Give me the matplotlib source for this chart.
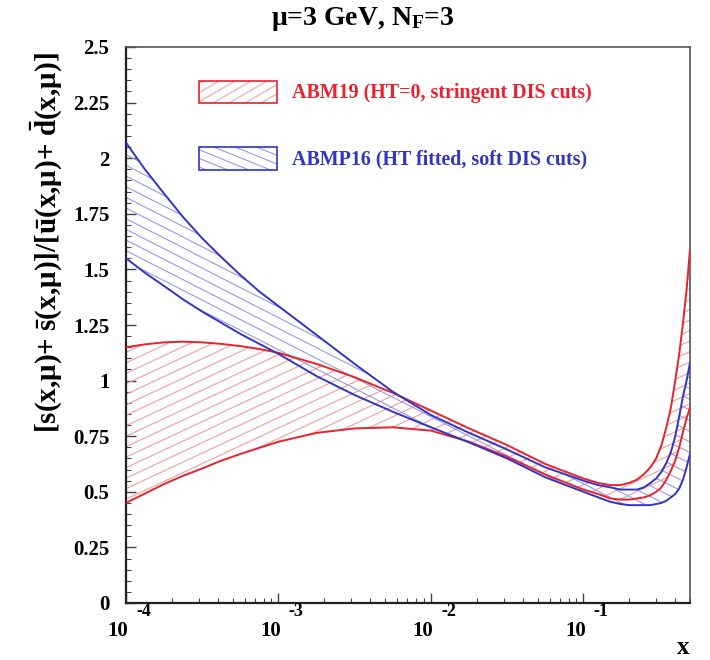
import numpy as np
import matplotlib
matplotlib.use('Agg')
import matplotlib.pyplot as plt
from matplotlib.patches import Polygon, Rectangle
from matplotlib.collections import LineCollection
from matplotlib.ticker import FixedLocator, MultipleLocator, LogLocator, NullFormatter
from matplotlib.transforms import blended_transform_factory, offset_copy

plt.rcParams['font.family'] = ['Liberation Serif', 'DejaVu Serif']
plt.rcParams['font.weight'] = 'bold'
plt.rcParams['mathtext.fontset'] = 'custom'
plt.rcParams['mathtext.rm'] = 'Liberation Serif:bold'
plt.rcParams['mathtext.it'] = 'Liberation Serif:bold'
plt.rcParams['mathtext.bf'] = 'Liberation Serif:bold'
plt.rcParams['mathtext.default'] = 'rm'

# ---- data ----
x = [1e-4, 1.33e-4, 1.78e-4, 2.37e-4, 3.16e-4, 4.22e-4, 5.62e-4, 7.5e-4, 1e-3,
     1.78e-3, 3.16e-3, 5.62e-3, 1e-2, 1.78e-2, 3.16e-2, 5.62e-2, 0.1,
     0.125, 0.15, 0.175, 0.2, 0.225, 0.25, 0.275, 0.3, 0.325, 0.35, 0.375,
     0.4, 0.425, 0.45, 0.475, 0.5]
abm19_hi = [1.15, 1.163, 1.172, 1.175, 1.172, 1.165, 1.155, 1.142, 1.125,
            1.075, 1.015, 0.945, 0.865, 0.785, 0.71, 0.625, 0.56,
            0.54, 0.53, 0.53, 0.54, 0.555, 0.58, 0.61, 0.65, 0.71, 0.79, 0.88,
            1.00, 1.12, 1.26, 1.41, 1.59]
abm19_lo = [0.45, 0.492, 0.535, 0.572, 0.605, 0.64, 0.67, 0.698, 0.725,
            0.765, 0.785, 0.79, 0.775, 0.725, 0.658, 0.578, 0.51,
            0.49, 0.47, 0.465, 0.465, 0.47, 0.475, 0.485, 0.50, 0.52, 0.555, 0.595,
            0.64, 0.70, 0.77, 0.83, 0.88]
abmp16_hi = [2.07, 1.95, 1.84, 1.735, 1.64, 1.555, 1.475, 1.40, 1.335,
             1.205, 1.075, 0.95, 0.845, 0.765, 0.69, 0.61, 0.55,
             0.53, 0.52, 0.51, 0.51, 0.51, 0.52, 0.54, 0.56, 0.59, 0.63, 0.68,
             0.75, 0.84, 0.93, 1.00, 1.08]
abmp16_lo = [1.55, 1.485, 1.425, 1.365, 1.31, 1.26, 1.21, 1.165, 1.12,
             1.02, 0.935, 0.86, 0.79, 0.722, 0.65, 0.565, 0.50,
             0.475, 0.455, 0.445, 0.44, 0.44, 0.44, 0.44, 0.445, 0.45, 0.46, 0.475,
             0.49, 0.515, 0.555, 0.61, 0.67]

labels = ['ABM19 (HT=0, stringent DIS cuts)', 'ABMP16 (HT fitted, soft DIS cuts)']
title = r'$\mu$=3 GeV, N$_{F}$=3'
ylabel = r'[s(x,$\mu$)+ $\bar{\rm s}$(x,$\mu$)]/[$\bar{\rm u}$(x,$\mu$)+ $\bar{\rm d}$(x,$\mu$)]'
yticks = [0, 0.25, 0.5, 0.75, 1, 1.25, 1.5, 1.75, 2, 2.25, 2.5]
ytick_labels = ['0', '0.25', '0.5', '0.75', '1', '1.25', '1.5', '1.75', '2', '2.25', '2.5']
xticks = [1e-4, 1e-3, 1e-2, 1e-1]
xtick_exponents = ['-4', '-3', '-2', '-1']

RED = '#e8222e'
BLUE = '#3434c4'
RED_H = '#eda0a0'
BLUE_H = '#9a9ae0'

W_PX, H_PX = 710, 660
fig = plt.figure(figsize=(7.1, 6.6), dpi=100)
L, R, B, T = 126, 690, 603, 47
ax = fig.add_axes([L / W_PX, 1 - B / H_PX, (R - L) / W_PX, (B - T) / H_PX])
AW, AH = R - L, B - T

ax.set_xscale('log')
ax.set_xlim(1e-4, 0.5)
ax.set_ylim(0, 2.5)


def hatch(ax, clip, angle, spacing, color, lw, box=(0, 0, 1, 1)):
    k = np.tan(np.deg2rad(angle))
    x0, y0, x1, y1 = box
    w = (x1 - x0) * AW
    h = (y1 - y0) * AH
    sv = spacing / np.cos(np.deg2rad(angle))
    bmin = -abs(k) * w - sv
    bmax = h + abs(k) * w + sv
    segs = []
    for b in np.arange(bmin, bmax, sv):
        ya = y0 + b / AH
        yb = y0 + (b + k * w) / AH
        segs.append([(x0, ya), (x1, yb)])
    lc = LineCollection(segs, transform=ax.transAxes, colors=color, linewidths=lw, zorder=2)
    ax.add_collection(lc)
    lc.set_clip_path(clip)


def band(ax, xs, hi, lo, line_color, hatch_color, angle):
    verts = list(zip(xs, hi)) + list(zip(xs[::-1], lo[::-1]))
    poly = Polygon(verts, closed=True, transform=ax.transData, facecolor='none', edgecolor='none')
    ax.add_patch(poly)
    hatch(ax, poly, angle, 9.5, hatch_color, 0.8)
    ax.plot(xs, hi, color=line_color, lw=1.4, zorder=3, solid_joinstyle='round')
    ax.plot(xs, lo, color=line_color, lw=1.4, zorder=3, solid_joinstyle='round')


band(ax, x, abm19_hi, abm19_lo, RED, RED_H, 25)
band(ax, x, abmp16_hi, abmp16_lo, BLUE, BLUE_H, -27)


def legbox(ax, y0, y1, color, hcolor, angle, text, ty):
    x0, x1 = (199 - L) / AW, (277 - L) / AW
    rect = Rectangle((x0, y0), x1 - x0, y1 - y0, transform=ax.transAxes,
                     facecolor='none', edgecolor=color, lw=1.2, zorder=4)
    ax.add_patch(rect)
    hatch(ax, rect, angle, 8, hcolor, 0.8, box=(x0, y0, x1, y1))
    ax.text((292 - L) / AW, ty, text, transform=ax.transAxes, color=color,
            fontsize=14.4, fontweight='bold', va='center', ha='left')


legbox(ax, (B - 103) / AH, (B - 81) / AH, RED, RED_H, 30, labels[0], (B - 93) / AH)
legbox(ax, (B - 170) / AH, (B - 147) / AH, BLUE, BLUE_H, -22, labels[1], (B - 159) / AH)

# axes styling
for s in ['top', 'right']:
    ax.spines[s].set_color('#555555')
    ax.spines[s].set_linewidth(1.2)
for s in ['left', 'bottom']:
    ax.spines[s].set_color('#222222')
    ax.spines[s].set_linewidth(1.6)

ax.yaxis.set_major_locator(FixedLocator(yticks))
ax.set_yticklabels(ytick_labels)
ax.yaxis.set_minor_locator(MultipleLocator(0.05))
ax.xaxis.set_major_locator(FixedLocator(xticks))
ax.xaxis.set_minor_locator(LogLocator(base=10, subs=np.arange(2, 10)))
ax.xaxis.set_minor_formatter(NullFormatter())
ax.set_xticklabels([''] * len(xticks))
ax.tick_params(axis='both', which='both', direction='in', top=False, right=False,
               color='#444444')
ax.tick_params(axis='both', which='major', length=7, width=1.0, labelsize=15)
ax.tick_params(axis='both', which='minor', length=3.5, width=0.8)
ax.tick_params(axis='y', pad=12)
for lab in ax.get_yticklabels():
    lab.set_fontweight('bold')

# ROOT-style x tick labels: "10" with a detached exponent
bt = blended_transform_factory(ax.transData, ax.transAxes)
for xv, ex in zip(xticks, xtick_exponents):
    tr10 = offset_copy(bt, fig=fig, x=-8, y=-28, units='dots')
    ax.text(xv, 0, '10', transform=tr10, ha='center', va='center', fontsize=15,
            fontweight='bold')
    trex = offset_copy(bt, fig=fig, x=10, y=-9, units='dots')
    ax.text(xv, 0, ex, transform=trex, ha='left', va='center', fontsize=13,
            fontweight='bold')

fig.text(363 / W_PX, 1 - 19 / H_PX, title, ha='center', va='center', fontsize=20, fontweight='bold')
fig.text(47 / W_PX, 1 - 243 / H_PX, ylabel, ha='center', va='center', rotation=90,
         fontsize=21, fontweight='bold')
fig.text(683 / W_PX, 1 - 648 / H_PX, 'x', ha='center', va='center', fontsize=18, fontweight='bold')

fig.savefig('out.png', dpi=100)
